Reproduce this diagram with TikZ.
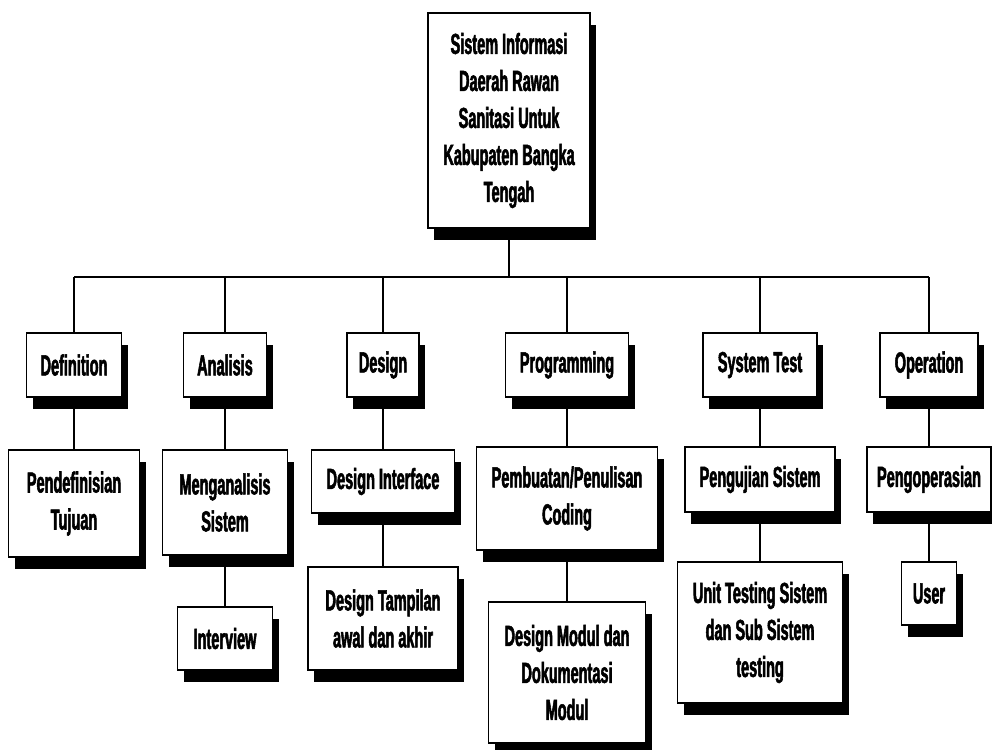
\documentclass[tikz,border=0pt]{standalone}
\usepackage{fontspec}
\setmainfont{Liberation Sans}[FakeStretch=0.5, FakeBold=1.8]
\usetikzlibrary{shadows}
\tikzset{
  box/.style={draw=black, line width=1.8pt, fill=white, align=center,
    inner sep=2pt,
    font=\fontsize{29}{37}\selectfont\bfseries,
    drop shadow={shadow xshift=6pt, shadow yshift=-12pt, fill=black, opacity=1}},
  link/.style={draw=black, line width=1.4pt}
}
\begin{document}
\begin{tikzpicture}[x=1pt, y=-1pt]
  \useasboundingbox (0,0) rectangle (992,749);

  % connectors first, so the boxes sit on top of them
  \coordinate (bus) at (509,277);
  \coordinate (c1) at (74,277);
  \coordinate (c2) at (225,277);
  \coordinate (c3) at (383,277);
  \coordinate (c4) at (567,277);
  \coordinate (c5) at (760,277);
  \coordinate (c6) at (929,277);
  \draw[link] (509,120) -- (bus);
  \draw[link] (c1) -- (c6);
  \foreach \c in {c1,c2,c3,c4,c5,c6} \draw[link] (\c) -- ++(0,120);
  \draw[link] (74,397) -- (74,503);
  \draw[link] (225,397) -- (225,638);
  \draw[link] (383,397) -- (383,618);
  \draw[link] (567,397) -- (567,672);
  \draw[link] (760,397) -- (760,632);
  \draw[link] (929,397) -- (929,593);

  % root
  \node[box, minimum width=162pt, minimum height=215pt] (root) at (509,120.5)
    {Sistem Informasi\\Daerah Rawan\\Sanitasi Untuk\\Kabupaten Bangka\\Tengah};

  % phases
  \node[box, minimum width=95pt,  minimum height=64pt] (def)  at (74,365)  {Definition};
  \node[box, minimum width=83pt,  minimum height=64pt] (ana)  at (225,365) {Analisis};
  \node[box, minimum width=72pt,  minimum height=64pt] (des)  at (383,365) {Design};
  \node[box, minimum width=123pt, minimum height=64pt] (prog) at (567,365) {Programming};
  \node[box, minimum width=114pt, minimum height=64pt] (sys)  at (760,365) {System Test};
  \node[box, minimum width=98pt,  minimum height=64pt] (op)   at (929,365) {Operation};

  % activities
  \node[box, minimum width=131pt, minimum height=107pt] (pend)   at (74,503.5)  {Pendefinisian\\Tujuan};
  \node[box, minimum width=125pt, minimum height=105pt] (meng)   at (225,502.5) {Menganalisis\\Sistem};
  \node[box, minimum width=143pt, minimum height=63pt]  (desint) at (383,481.5) {Design Interface};
  \node[box, minimum width=181pt, minimum height=103pt] (pemb)   at (567,498.5) {Pembuatan/Penulisan\\Coding};
  \node[box, minimum width=150pt, minimum height=65pt]  (peng)   at (760,479.5) {Pengujian Sistem};
  \node[box, minimum width=124pt, minimum height=65pt]  (pengop) at (929,479.5) {Pengoperasian};

  % details
  \node[box, minimum width=95pt,  minimum height=63pt]  (intv)    at (225,638.5) {Interview};
  \node[box, minimum width=150pt, minimum height=103pt] (destamp) at (383,618.5) {Design Tampilan\\awal dan akhir};
  \node[box, minimum width=157pt, minimum height=141pt] (desmod)  at (567,672.5) {Design Modul dan\\Dokumentasi\\Modul};
  \node[box, minimum width=165pt, minimum height=141pt] (unit)    at (760,632.5) {Unit Testing Sistem\\dan Sub Sistem\\testing};
  \node[box, minimum width=55pt,  minimum height=63pt]  (user)    at (929,593.5) {User};
\end{tikzpicture}
\end{document}
